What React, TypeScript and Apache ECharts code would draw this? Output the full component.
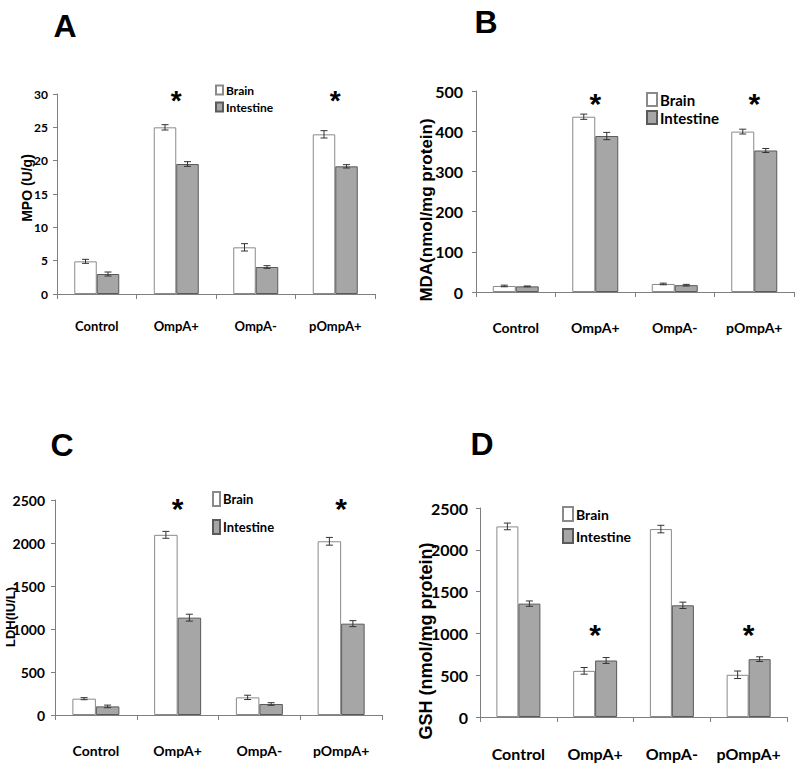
import React, { useEffect, useRef } from "react";
import * as echarts from "echarts";

const categories = ["Control", "OmpA+", "OmpA-", "pOmpA+"];

// Panel A: MPO (U/g)
const mpoBrain = [4.9, 25.0, 7.0, 23.95];
const mpoBrainErr = [0.3, 0.4, 0.55, 0.55];
const mpoIntestine = [3.0, 19.5, 4.05, 19.15];
const mpoIntestineErr = [0.3, 0.35, 0.2, 0.25];

// Panel B: MDA (nmol/mg protein)
const mdaBrain = [15, 436, 20, 399];
const mdaBrainErr = [2, 6.5, 2, 6];
const mdaIntestine = [14, 388, 17, 352];
const mdaIntestineErr = [1, 9, 2, 5];

// Panel C: LDH (IU/L)
const ldhBrain = [190, 2095, 205, 2020];
const ldhBrainErr = [12, 40, 25, 45];
const ldhIntestine = [100, 1132, 128, 1062];
const ldhIntestineErr = [15, 40, 15, 35];

// Panel D: GSH (nmol/mg protein)
const gshBrain = [2280, 552, 2248, 505];
const gshBrainErr = [40, 40, 45, 45];
const gshIntestine = [1356, 676, 1336, 692];
const gshIntestineErr = [32, 35, 38, 28];

// significance stars: category indices and star level per panel
const starCats = [1, 3];
const starLevels = [29.0, 470, 2400, 990];

const NARROW = "Lato, 'Liberation Sans Narrow', sans-serif";
const ARIAL = "'Liberation Sans', Arial, sans-serif";
const AXIS_COLOR = "#7f7f7f";

type Panel = {
  grid: { left: number; top: number; width: number; height: number };
  max: number;
  interval: number;
  brain: number[];
  brainErr: number[];
  intestine: number[];
  intestineErr: number[];
  barWidth: number;
  yFont: number;
  yMargin: number;
  xFont: number;
  xMargin: number;
  legend: { left: number; top: number; itemWidth: number; itemHeight: number; fontSize: number; itemGap: number };
  starFont: number;
};

const panels: Panel[] = [
  {
    grid: { left: 57, top: 94, width: 318, height: 200 },
    max: 30, interval: 5,
    brain: mpoBrain, brainErr: mpoBrainErr, intestine: mpoIntestine, intestineErr: mpoIntestineErr,
    barWidth: 22.5, yFont: 12, yMargin: 9, xFont: 13, xMargin: 25,
    legend: { left: 215, top: 84, itemWidth: 7, itemHeight: 9, fontSize: 12, itemGap: 5 },
    starFont: 28,
  },
  {
    grid: { left: 476, top: 91, width: 318, height: 201 },
    max: 500, interval: 100,
    brain: mdaBrain, brainErr: mdaBrainErr, intestine: mdaIntestine, intestineErr: mdaIntestineErr,
    barWidth: 23, yFont: 16, yMargin: 13, xFont: 14, xMargin: 28,
    legend: { left: 646, top: 92, itemWidth: 10, itemHeight: 13, fontSize: 15, itemGap: 3 },
    starFont: 30,
  },
  {
    grid: { left: 55, top: 500, width: 327, height: 215 },
    max: 2500, interval: 500,
    brain: ldhBrain, brainErr: ldhBrainErr, intestine: ldhIntestine, intestineErr: ldhIntestineErr,
    barWidth: 23.5, yFont: 14, yMargin: 10, xFont: 14, xMargin: 28,
    legend: { left: 212, top: 491, itemWidth: 7, itemHeight: 14, fontSize: 13, itemGap: 12 },
    starFont: 30,
  },
  {
    grid: { left: 480, top: 508, width: 307, height: 209 },
    max: 2500, interval: 500,
    brain: gshBrain, brainErr: gshBrainErr, intestine: gshIntestine, intestineErr: gshIntestineErr,
    barWidth: 22, yFont: 16, yMargin: 12, xFont: 16, xMargin: 28,
    legend: { left: 562, top: 506, itemWidth: 10, itemHeight: 14, fontSize: 14, itemGap: 6 },
    starFont: 30,
  },
];

const panelLetters = ["A", "B", "C", "D"];
const yTitles = ["MPO (U/g)", "MDA(nmol/mg protein)", "LDH(IU/L)", "GSH (nmol/mg protein)"];

function buildOption() {
  const grids: any[] = [];
  const xAxes: any[] = [];
  const yAxes: any[] = [];
  const legends: any[] = [];
  const series: any[] = [];

  panels.forEach((p, g) => {
    grids.push({ ...p.grid, containLabel: false });
    xAxes.push({
      type: "category",
      gridIndex: g,
      data: categories,
      axisLine: { lineStyle: { color: AXIS_COLOR, width: 1 } },
      axisTick: { show: true, length: 5, lineStyle: { color: AXIS_COLOR } },
      axisLabel: {
        interval: 0,
        color: "#000",
        fontFamily: NARROW,
        fontWeight: "bold",
        fontSize: p.xFont,
        margin: p.xMargin,
      },
    });
    yAxes.push({
      type: "value",
      gridIndex: g,
      min: 0,
      max: p.max,
      interval: p.interval,
      splitLine: { show: false },
      axisLine: { show: true, lineStyle: { color: AXIS_COLOR, width: 1 } },
      axisTick: { show: true, length: 4, lineStyle: { color: AXIS_COLOR } },
      axisLabel: {
        color: "#000",
        fontFamily: NARROW,
        fontWeight: "bold",
        fontSize: p.yFont,
        margin: p.yMargin,
        formatter: (v: number) => String(v),
      },
    });
    legends.push({
      orient: "vertical",
      left: p.legend.left,
      top: p.legend.top,
      padding: 0,
      itemWidth: p.legend.itemWidth,
      itemHeight: p.legend.itemHeight,
      itemGap: p.legend.itemGap,
      icon: "rect",
      selectedMode: false,
      data: ["Brain", "Intestine"],
      textStyle: { color: "#000", fontFamily: NARROW, fontWeight: "bold", fontSize: p.legend.fontSize, padding: [0, 0, 0, -2] },
    });

    series.push({
      name: "Brain",
      type: "bar",
      xAxisIndex: g,
      yAxisIndex: g,
      data: p.brain,
      barWidth: p.barWidth,
      barGap: "0%",
      itemStyle: { color: "#ffffff", borderColor: "#8a8a8a", borderWidth: 1 },
    });
    series.push({
      name: "Intestine",
      type: "bar",
      xAxisIndex: g,
      yAxisIndex: g,
      data: p.intestine,
      barWidth: p.barWidth,
      barGap: "0%",
      itemStyle: { color: "#a6a6a6", borderColor: "#5a5a5a", borderWidth: 1 },
    });

    const makeErr = (vals: number[], errs: number[], side: number) => ({
      type: "custom",
      xAxisIndex: g,
      yAxisIndex: g,
      z: 10,
      silent: true,
      encode: { x: 0, y: 1 },
      data: vals.map((v, i) => [i, v, errs[i]]),
      renderItem: (params: any, api: any) => {
        const ci = api.value(0);
        const v = api.value(1);
        const e = api.value(2);
        const x = api.coord([ci, v])[0] + (side * p.barWidth) / 2;
        const yHi = api.coord([ci, v + e])[1];
        const yLo = api.coord([ci, v - e])[1];
        const cap = 3.5;
        const st = { stroke: "#333", lineWidth: 1 };
        return {
          type: "group",
          children: [
            { type: "line", shape: { x1: x, y1: yHi, x2: x, y2: yLo }, style: st },
            { type: "line", shape: { x1: x - cap, y1: yHi, x2: x + cap, y2: yHi }, style: st },
            { type: "line", shape: { x1: x - cap, y1: yLo, x2: x + cap, y2: yLo }, style: st },
          ],
        };
      },
    });
    series.push(makeErr(p.brain, p.brainErr, -1));
    series.push(makeErr(p.intestine, p.intestineErr, 1));

    series.push({
      type: "custom",
      xAxisIndex: g,
      yAxisIndex: g,
      z: 10,
      silent: true,
      encode: { x: 0, y: 1 },
      data: starCats.map((c) => [c, starLevels[g]]),
      renderItem: (params: any, api: any) => {
        const pt = api.coord([api.value(0), api.value(1)]);
        return {
          type: "text",
          x: pt[0],
          y: pt[1],
          style: {
            text: "*",
            fill: "#000",
            font: `bold ${p.starFont}px ${ARIAL}`,
            textAlign: "center",
            textVerticalAlign: "middle",
          },
        };
      },
    });
  });

  const letterPos = [
    [65, 26],
    [486, 22],
    [62, 445],
    [482, 444],
  ];
  const titlePos = [
    { x: 27, y: 188, size: 14 },
    { x: 426, y: 210, size: 17 },
    { x: 10, y: 617, size: 13 },
    { x: 426, y: 641, size: 18 },
  ];

  const graphics: any[] = [];
  panelLetters.forEach((L, i) => {
    graphics.push({
      type: "text",
      x: letterPos[i][0],
      y: letterPos[i][1],
      style: {
        text: L,
        fill: "#000",
        font: `bold 32px ${ARIAL}`,
        textAlign: "center",
        textVerticalAlign: "middle",
      },
    });
  });
  yTitles.forEach((t, i) => {
    graphics.push({
      type: "text",
      x: titlePos[i].x,
      y: titlePos[i].y,
      rotation: Math.PI / 2,
      style: {
        text: t,
        fill: "#000",
        font: `bold ${titlePos[i].size}px ${ARIAL}`,
        textAlign: "center",
        textVerticalAlign: "middle",
      },
    });
  });

  return {
    animation: false,
    backgroundColor: "#ffffff",
    grid: grids,
    xAxis: xAxes,
    yAxis: yAxes,
    legend: legends,
    series,
    graphic: graphics,
  };
}

export default function App() {
  const ref = useRef<HTMLDivElement>(null);
  useEffect(() => {
    document.body.style.margin = "0";
    if (!ref.current) return;
    const chart = echarts.init(ref.current, undefined, { renderer: "svg" });
    chart.setOption(buildOption() as any);
    return () => chart.dispose();
  }, []);
  return <div ref={ref} style={{ width: 800, height: 769 }} />;
}
